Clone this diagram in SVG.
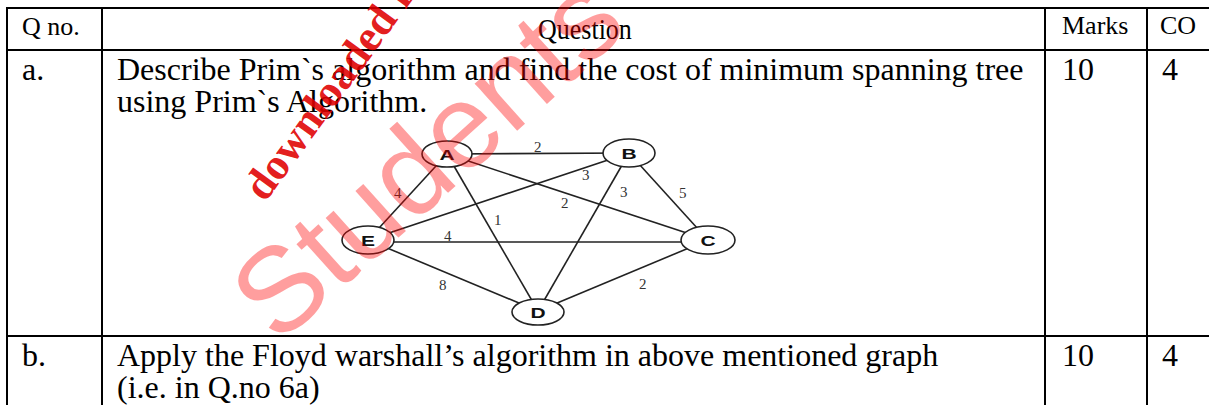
<svg xmlns="http://www.w3.org/2000/svg" width="1209" height="405" viewBox="0 0 1209 405">
<style>
.t{font-family:"Liberation Serif","Times New Roman",serif;fill:#000}
.h{font-size:26px}
.b{font-size:32px}
.g line{stroke:#222;stroke-width:1.6}
.n ellipse{fill:#fff;stroke:#222;stroke-width:1.6}
.nl{font-family:"Liberation Sans",Arial,sans-serif;font-weight:bold;font-size:15px;fill:#111}
.el{font-family:"Liberation Serif","Times New Roman",serif;font-size:15px;fill:#333}
.grid line{stroke:#000;stroke-width:2}
</style>
<rect width="1209" height="405" fill="#fff"/>
<g id="table" class="grid">
<line x1="7" y1="8" x2="1209" y2="8"/>
<line x1="7" y1="50" x2="1209" y2="50"/>
<line x1="7" y1="336" x2="1209" y2="336"/>
<line x1="7" y1="7" x2="7" y2="405"/>
<line x1="102" y1="7" x2="102" y2="405"/>
<line x1="1045" y1="7" x2="1045" y2="405"/>
<line x1="1147" y1="7" x2="1147" y2="405"/>
</g>
<g id="texts">
<text class="t h" x="22" y="35">Q no.</text>
<text class="t h" transform="translate(538,39) scale(1,1.12)">Question</text>
<text class="t h" x="1062" y="34">Marks</text>
<text class="t h" x="1160" y="34">CO</text>
<text class="t b" x="22" y="80">a.</text>
<text class="t b" x="117" y="80">Describe Prim`s algorithm and find the cost of minimum spanning tree</text>
<text class="t b" x="117" y="112">using Prim`s Algorithm.</text>
<text class="t b" x="1062" y="80">10</text>
<text class="t b" x="1162" y="80">4</text>
<text class="t b" x="22" y="366">b.</text>
<text class="t b" x="117" y="366">Apply the Floyd warshall’s algorithm in above mentioned graph</text>
<text class="t b" x="117" y="398">(i.e. in Q.no 6a)</text>
<text class="t b" x="1062" y="366">10</text>
<text class="t b" x="1162" y="366">4</text>
</g>
<g id="connectors" class="g">
<line x1="447" y1="154" x2="629" y2="153"/>
<line x1="447" y1="154" x2="368" y2="240"/>
<line x1="447" y1="154" x2="538" y2="311"/>
<line x1="447" y1="154" x2="708" y2="240"/>
<line x1="629" y1="153" x2="368" y2="240"/>
<line x1="629" y1="153" x2="538" y2="311"/>
<line x1="629" y1="153" x2="708" y2="240"/>
<line x1="368" y1="242" x2="708" y2="242"/>
<line x1="368" y1="240" x2="538" y2="311"/>
<line x1="538" y1="311" x2="708" y2="240"/>
<text class="el" x="534" y="152">2</text>
<text class="el" x="394" y="198">4</text>
<text class="el" x="494" y="225">1</text>
<text class="el" x="561" y="208">2</text>
<text class="el" x="582" y="180">3</text>
<text class="el" x="620" y="197">3</text>
<text class="el" x="679" y="198">5</text>
<text class="el" x="444" y="241">4</text>
<text class="el" x="439" y="290">8</text>
<text class="el" x="639" y="289">2</text>
</g>
<g id="nodeA" class="n"><ellipse cx="447" cy="154" rx="25" ry="13"/><text class="nl" text-anchor="middle" transform="translate(447,159.5) scale(1.4,1)">A</text></g>
<g id="nodeB" class="n"><ellipse cx="629" cy="153" rx="26" ry="14"/><text class="nl" text-anchor="middle" transform="translate(629,158.5) scale(1.4,1)">B</text></g>
<g id="nodeE" class="n"><ellipse cx="368" cy="240" rx="26" ry="14"/><text class="nl" text-anchor="middle" transform="translate(368,245.5) scale(1.4,1)">E</text></g>
<g id="nodeC" class="n"><ellipse cx="708" cy="240" rx="27" ry="14"/><text class="nl" text-anchor="middle" transform="translate(708,245.5) scale(1.4,1)">C</text></g>
<g id="nodeD" class="n"><ellipse cx="538" cy="312" rx="26" ry="13"/><text class="nl" text-anchor="middle" transform="translate(538,317.5) scale(1.4,1)">D</text></g>
<g id="watermark">
<text transform="translate(278,346) rotate(-42)" font-family="Liberation Sans,Arial,sans-serif" font-size="120" fill="#ff0000" fill-opacity="0.38">Students</text>
<text transform="translate(265,203) rotate(-54)" font-family="Liberation Serif,serif" font-weight="bold" font-size="44" fill="#e00000" fill-opacity="0.9">downloaded from</text>
</g>
</svg>
